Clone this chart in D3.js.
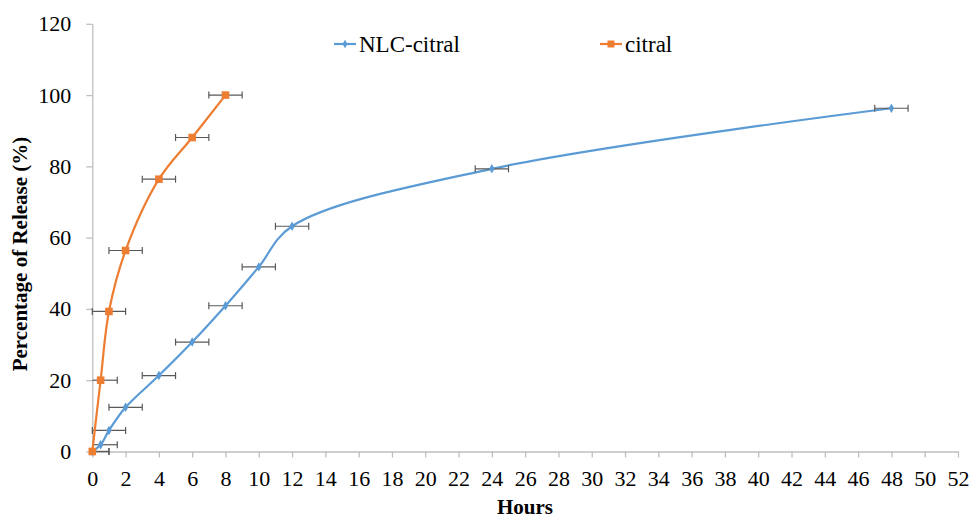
<!DOCTYPE html>
<html>
<head>
<meta charset="utf-8">
<script src="https://cdn.jsdelivr.net/npm/d3@7"></script>
<style>
  body { margin: 0; background: #fff; }
  text { font-family: "Liberation Serif", "Times New Roman", serif; fill: #000; }
</style>
</head>
<body>
<svg id="chart" width="972" height="518"></svg>
<script>

// data
const hours_nlc = [ 0, 0.5, 1, 2, 4, 6, 8, 10, 12, 24, 48 ];
const release_nlc = [ 0, 1.9, 5.9, 12.4, 21.3, 30.7, 40.9, 51.8, 63.2, 79.3, 96.3 ];
const hours_citral = [ 0, 0.5, 1, 2, 4, 6, 8 ];
const release_citral = [ 0, 20, 39.3, 56.4, 76.4, 88.1, 100 ];
const x_error = 1;
const x_ticks = d3.range( 0, 53, 2 );
const y_ticks = [ 0, 20, 40, 60, 80, 100, 120 ];
const series_names = [ "NLC-citral", "citral" ];
const series_colors = [ "#5b9bd5", "#ed7d31" ];

const svg = d3.select( "#chart" );

const x = d3.scaleLinear().domain( [ 0, 52 ] ).range( [ 92.3, 958 ] );
const y = d3.scaleLinear().domain( [ 0, 120 ] ).range( [ 451.5, 23.8 ] );

// axes
const xAxis = svg.append( "g" )
  .attr( "transform", "translate(0," + y( 0 ) + ")" )
  .call( d3.axisBottom( x ).tickValues( x_ticks ).tickSize( 6 ).tickSizeOuter( 0 ) );

const yAxis = svg.append( "g" )
  .attr( "transform", "translate(" + x( 0 ) + ",0)" )
  .call( d3.axisLeft( y ).tickValues( y_ticks ).tickSize( 6 ).tickSizeOuter( 0 ) );

[ xAxis, yAxis ].forEach( g => {
  g.attr( "font-family", "Liberation Serif, serif" ).attr( "font-size", 22 );
  g.select( ".domain" ).attr( "stroke", "#bfbfbf" ).attr( "stroke-width", 1.3 );
  g.selectAll( ".tick line" ).attr( "stroke", "#bfbfbf" ).attr( "stroke-width", 1.3 );
  g.selectAll( ".tick text" )
    .style( "font-family", "'Liberation Serif', serif" )
    .style( "font-size", "22px" )
    .attr( "fill", "#000" );
} );

xAxis.selectAll( ".tick text" ).attr( "y", 19 );
yAxis.selectAll( ".tick text" ).attr( "x", -21 );

// axis titles
svg.append( "text" )
  .attr( "x", 525 )
  .attr( "y", 514 )
  .attr( "text-anchor", "middle" )
  .style( "font-size", "21px" )
  .style( "font-weight", "bold" )
  .text( "Hours" );

svg.append( "text" )
  .attr( "transform", "translate(27,254) rotate(-90)" )
  .attr( "text-anchor", "middle" )
  .style( "font-size", "21px" )
  .style( "font-weight", "bold" )
  .text( "Percentage of Release (%)" );

const line = d3.line()
  .x( d => x( d[ 0 ] ) )
  .y( d => y( d[ 1 ] ) )
  .curve( d3.curveCatmullRom.alpha( 0.5 ) );

function drawSeries( hrs, vals, color, marker ) {

  const pts = hrs.map( ( h, i ) => [ h, vals[ i ] ] );

  svg.append( "path" )
    .datum( pts )
    .attr( "fill", "none" )
    .attr( "stroke", color )
    .attr( "stroke-width", 2.2 )
    .attr( "d", line );

  // horizontal error bars, clipped at x = 0
  const eb = svg.append( "g" ).attr( "stroke", "#595959" ).attr( "stroke-width", 1.2 );
  pts.forEach( p => {
    const lo = Math.max( 0, p[ 0 ] - x_error ), hi = p[ 0 ] + x_error;
    const yy = y( p[ 1 ] );
    eb.append( "line" ).attr( "x1", x( lo ) ).attr( "x2", x( hi ) ).attr( "y1", yy ).attr( "y2", yy );
    eb.append( "line" ).attr( "x1", x( hi ) ).attr( "x2", x( hi ) ).attr( "y1", yy - 3.5 ).attr( "y2", yy + 3.5 );
    if( p[ 0 ] - x_error >= 0 )
      eb.append( "line" ).attr( "x1", x( lo ) ).attr( "x2", x( lo ) ).attr( "y1", yy - 3.5 ).attr( "y2", yy + 3.5 );
  } );

  const m = svg.append( "g" );
  pts.forEach( p => {
    if( marker === "square" ) {
      m.append( "rect" )
        .attr( "x", x( p[ 0 ] ) - 3.8 ).attr( "y", y( p[ 1 ] ) - 3.8 )
        .attr( "width", 7.6 ).attr( "height", 7.6 )
        .attr( "fill", color );
    } else {
      m.append( "path" )
        .attr( "d", d3.symbol( d3.symbolDiamond, 26 )() )
        .attr( "transform", "translate(" + x( p[ 0 ] ) + "," + y( p[ 1 ] ) + ")" )
        .attr( "fill", color );
    }
  } );
}

drawSeries( hours_nlc, release_nlc, series_colors[ 0 ], "diamond" );
drawSeries( hours_citral, release_citral, series_colors[ 1 ], "square" );

// legend
const legendX = [ 334, 600 ];
series_names.forEach( ( name, i ) => {
  const g = svg.append( "g" ).attr( "transform", "translate(" + legendX[ i ] + ",44)" );
  g.append( "line" ).attr( "x1", 0 ).attr( "x2", 22 )
    .attr( "stroke", series_colors[ i ] ).attr( "stroke-width", 2.2 );
  if( i === 0 ) {
    g.append( "path" ).attr( "d", d3.symbol( d3.symbolDiamond, 22 )() )
      .attr( "transform", "translate(11,0)" ).attr( "fill", series_colors[ i ] );
  } else {
    g.append( "rect" ).attr( "x", 7.5 ).attr( "y", -3.5 ).attr( "width", 7 ).attr( "height", 7 )
      .attr( "fill", series_colors[ i ] );
  }
  g.append( "text" ).attr( "x", 25 ).attr( "y", 8 )
    .style( "font-size", "23px" ).text( name );
} );

</script>
</body>
</html>
